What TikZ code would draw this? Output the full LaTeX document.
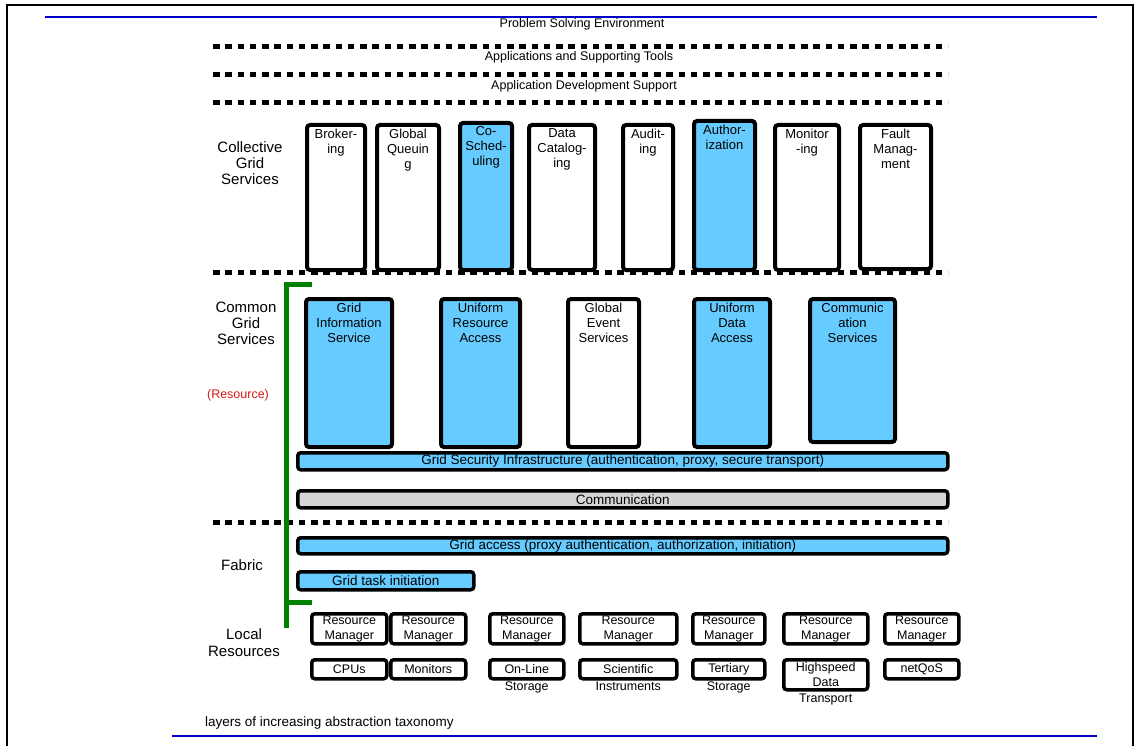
\documentclass[tikz,border=0pt]{standalone}
\usepackage{fontspec}
\setmainfont{Liberation Sans}
\definecolor{gridblue}{RGB}{102,204,255}
\definecolor{commgray}{RGB}{214,214,214}
\definecolor{rulblue}{RGB}{0,0,200}
\definecolor{resred}{RGB}{215,25,25}
\tikzset{
  layertext/.style={font=\fontsize{15}{16}\selectfont, align=center},
  headtext/.style={font=\fontsize{12.5}{12.5}\selectfont},
  svcbox/.style={draw, line width=4, rounded corners=3, fill=white, anchor=north west, inner sep=0},
  svcblue/.style={svcbox, fill=gridblue},
  intext/.style={font=\fontsize{13}{15}\selectfont, align=center, inner sep=1, anchor=north, yshift=-4.5},
  barbox/.style={draw, line width=3.5, rounded corners=3, anchor=north west, inner sep=0, minimum width=650, font=\fontsize{13.5}{13.5}\selectfont},
  resbox/.style={draw, line width=3.5, rounded corners=3, fill=white, anchor=north west, inner sep=0, align=center, font=\fontsize{12.5}{15}\selectfont},
  subtext/.style={font=\fontsize{12.5}{12.5}\selectfont, inner sep=0, label distance=1.5},
  dotline/.style={line width=5, dash pattern=on 6.5 off 5.75},
}
% box with its text at the top
\newcommand{\svcnode}[7]{\node[#2, minimum width=#5, minimum height=#6, label={[intext]north:{#7}}] (#1) at (#3,#4) {};}
\begin{document}
\begin{tikzpicture}[x=1pt, y=-1pt]
    \useasboundingbox (0,0) rectangle (1135,746);

    % Frame and rules
    \draw[line width=2] (7,746) -- (7,5) -- (1133,5) -- (1133,746);
    \draw[rulblue, line width=2] (45,17) -- (1097,17);
    \draw[rulblue, line width=2] (172,736) -- (1097,736);

    % Upper layers
    \node[headtext] (pse) at (582,24) {Problem Solving Environment};
    \node[headtext] (ast) at (579,57) {Applications and Supporting Tools};
    \node[headtext] (ads) at (584,86) {Application Development Support};

    % Layer names
    \node[layertext] (coll) at (250,163) {Collective\\Grid\\Services};
    \node[layertext] (common) at (246,323) {Common\\Grid\\Services};
    \node[layertext, resred, font=\fontsize{12.5}{12.5}\selectfont] (res) at (238,395) {(Resource)};
    \node[layertext] (fab) at (242,565) {Fabric};
    \node[layertext, font=\fontsize{15}{17}\selectfont] (local) at (244,643) {Local\\Resources};

    % Collective grid services
    \svcnode{brk}{svcbox}{305}{123}{58}{145}{Broker-\\ing}
    \svcnode{gq}{svcbox}{375}{123}{62}{145}{Global\\Queuin\\g}
    \svcnode{cos}{svcblue}{458}{121}{52}{147}{Co-\\Sched-\\uling}
    \svcnode{dcat}{svcbox}{527}{123}{66}{145}{Data\\Catalog-\\ing}
    \svcnode{aud}{svcbox}{621}{123}{50}{145}{Audit-\\ing}
    \svcnode{auth}{svcblue}{692}{119}{61}{149}{Author-\\ization}
    \svcnode{mon}{svcbox}{773}{123}{64}{145}{Monitor\\-ing}
    \svcnode{fault}{svcbox}{858}{123}{71}{144}{Fault\\Manag-\\ment}

    % Common grid services
    \svcnode{gis}{svcblue}{304}{297}{86}{148}{Grid\\Information\\Service}
    \svcnode{ura}{svcblue}{439}{297}{79}{148}{Uniform\\Resource\\Access}
    \svcnode{ges}{svcbox}{566}{297}{71}{148}{Global\\Event\\Services}
    \svcnode{uda}{svcblue}{692}{297}{76}{148}{Uniform\\Data\\Access}
    \svcnode{cs}{svcblue}{808}{297}{85}{143}{Communic\\ation\\Services}

    \node[barbox, fill=gridblue, minimum height=17] (gsi) at (296,451) {Grid Security Infrastructure (authentication, proxy, secure transport)};
    \node[barbox, fill=commgray, minimum height=17] (comm) at (296,489) {Communication};

    % Fabric
    \node[barbox, fill=gridblue, minimum height=16] (gacc) at (296,536) {Grid access (proxy authentication, authorization, initiation)};
    \node[barbox, fill=gridblue, minimum height=18, minimum width=176] (gtask) at (296,570) {Grid task initiation};

    % Layer separators
    \foreach \y in {47,75,103,272,522}
        \draw[dotline] (213,\y) -- (948,\y);

    % Resource bracket
    \coordinate (brtop) at (312,284);
    \coordinate (brbot) at (286,628);
    \coordinate (brstub) at (312,602);
    \draw[green!50!black, line width=5] (brtop) -| (brbot);
    \draw[green!50!black, line width=5] (brstub) -- (brstub -| brbot);

    % Local resources
    \node[resbox, minimum width=75, minimum height=30] (rm1) at (310,612) {Resource\\Manager};
    \node[resbox, minimum width=75, minimum height=30] (rm2) at (389,612) {Resource\\Manager};
    \node[resbox, minimum width=74, minimum height=30] (rm3) at (488,612) {Resource\\Manager};
    \node[resbox, minimum width=97, minimum height=30] (rm4) at (578,612) {Resource\\Manager};
    \node[resbox, minimum width=72, minimum height=30] (rm5) at (691,612) {Resource\\Manager};
    \node[resbox, minimum width=84, minimum height=30] (rm6) at (782,612) {Resource\\Manager};
    \node[resbox, minimum width=74, minimum height=30] (rm7) at (883,612) {Resource\\Manager};

    \node[resbox, minimum width=75, minimum height=19] (cpu) at (310,658) {CPUs};
    \node[resbox, minimum width=75, minimum height=19] (mons) at (389,658) {Monitors};
    \node[resbox, minimum width=74, minimum height=19, label={[subtext]below:Storage}] (onl) at (488,658) {On-Line};
    \node[resbox, minimum width=97, minimum height=19, label={[subtext]below:Instruments}] (sci) at (578,658) {Scientific};
    \node[resbox, minimum width=72, minimum height=19, label={[subtext]below:Storage}] (ter) at (691,658) {Tertiary};
    \node[resbox, minimum width=84, minimum height=30, label={[subtext, label distance=2]below:Transport}] (hsd) at (782,658) {Highspeed\\Data};
    \node[resbox, minimum width=74, minimum height=19] (nqos) at (883,658) {netQoS};

    % Caption
    \node[anchor=west, inner sep=0, font=\fontsize{13.5}{13.5}\selectfont] (cap) at (205,723) {layers of increasing abstraction taxonomy};
\end{tikzpicture}
\end{document}
